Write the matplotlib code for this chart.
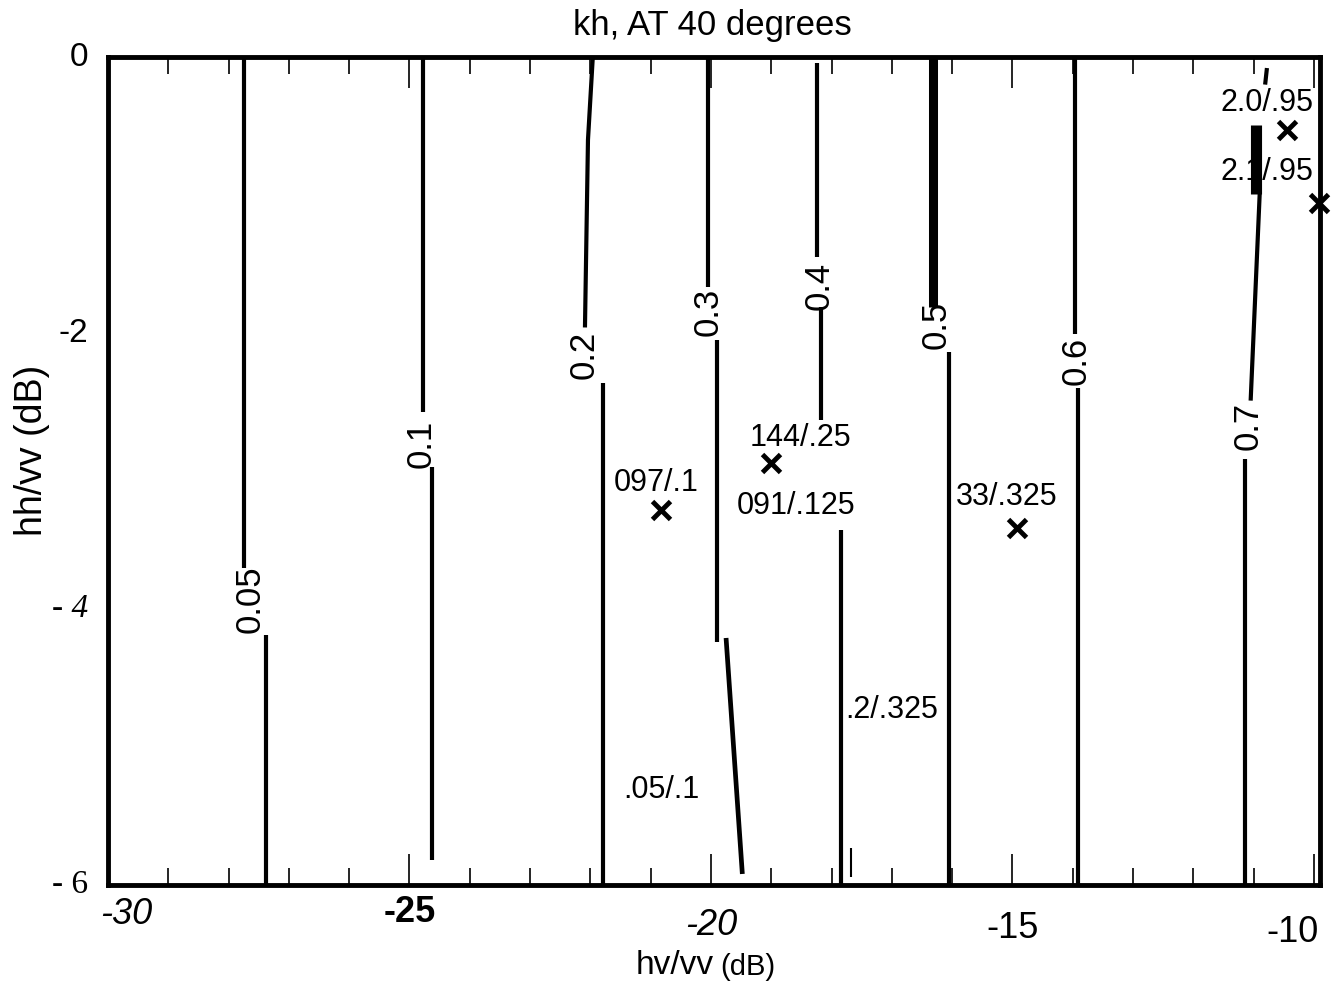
import matplotlib
matplotlib.use("Agg")
import matplotlib.pyplot as plt
from matplotlib.ticker import MultipleLocator

plt.rcParams['font.family'] = ['Liberation Sans', 'DejaVu Sans']

# contour levels of kh and their inline labels
levels = [0.05, 0.1, 0.2, 0.3, 0.4, 0.5, 0.6, 0.7]
level_text = ['0.05', '0.1', '0.2', '0.3', '0.4', '0.5', '0.6', '0.7']

# traced contour pieces: (hv/vv values, hh/vv values) for each piece
c005 = [([-27.74, -27.74], [0.0, -3.70]), ([-27.38, -27.38], [-4.19, -6.0])]
c010 = [([-24.78, -24.78], [0.0, -2.57]), ([-24.62, -24.62], [-2.97, -5.82])]
c020 = [([-21.96, -22.04, -22.09], [0.0, -0.60, -1.96]), ([-21.79, -21.79], [-2.36, -6.0])]
c030 = [([-20.05, -20.05], [0.0, -1.67]), ([-19.90, -19.90], [-2.05, -4.24]),
        ([-19.75, -19.48], [-4.21, -5.92])]
c040 = [([-18.24, -18.24], [-0.04, -1.45]), ([-18.17, -18.17], [-1.81, -2.63]),
        ([-17.84, -17.84], [-3.43, -6.0]), ([-17.67, -17.67], [-5.73, -5.94])]
c050 = [([-16.31, -16.31], [0.0, -1.81]), ([-16.05, -16.05], [-2.14, -6.0])]
c060 = [([-13.97, -13.97], [0.0, -2.01]), ([-13.92, -13.92], [-2.40, -6.0])]
c070 = [([-10.78, -10.81], [-0.08, -0.20]), ([-10.96, -10.96], [-0.49, -0.99]),
        ([-10.90, -11.05], [-0.99, -2.49]), ([-11.15, -11.15], [-2.91, -6.0])]
contours = [c005, c010, c020, c030, c040, c050, c060, c070]

label_hv = [-27.64, -24.80, -22.11, -20.05, -18.21, -16.26, -13.95, -11.10]
label_hh = [-3.93, -2.80, -2.16, -1.85, -1.66, -1.94, -2.20, -2.67]

# measured points
pt_hv = [-10.45, -9.92, -20.83, -19.00, -14.93]
pt_hh = [-0.53, -1.06, -3.28, -2.94, -3.41]

note_text = ['2.0/.95', '2.1/.95', '097/.1', '144/.25', '091/.125',
             '33/.325', '.2/.325', '.05/.1']
note_hv = [-10.78, -10.78, -20.91, -18.51, -18.59, -15.10, -17.01, -20.83]
note_hh = [-0.33, -0.83, -3.09, -2.76, -3.25, -3.19, -4.73, -5.31]

xtick_vals = [-30, -25, -20, -15, -10]
ytick_vals = [0, -2, -4, -6]

fig = plt.figure(figsize=(13.33, 9.9), dpi=100)
ax = fig.add_axes([108 / 1333, 1 - 885 / 990, (1320 - 108) / 1333, (885 - 57) / 990])

# heavier strokes on a couple of pieces
heavy = {(5, 0): 6.5, (7, 1): 8.0, (3, 2): 3.4, (4, 3): 1.5}

for i, segs in enumerate(contours):
    for j, (xs, ys) in enumerate(segs):
        ax.plot(xs, ys, color='k', lw=heavy.get((i, j), 3.0),
                solid_capstyle='butt', zorder=3)
    ax.text(label_hv[i], label_hh[i], level_text[i], rotation=90, fontsize=25,
            ha='center', va='center', zorder=2)

for t, x, y in zip(note_text, note_hv, note_hh):
    ax.text(x, y, t, fontsize=22, ha='center', va='center', zorder=2)

ax.plot(pt_hv, pt_hh, 'x', color='k', ms=13, mew=3.5, clip_on=False, zorder=4)

ax.set_xlim(-30, -9.9)
ax.set_ylim(-6, 0)

for s in ax.spines.values():
    s.set_linewidth(3.5)

ax.xaxis.set_major_locator(MultipleLocator(5))
ax.xaxis.set_minor_locator(MultipleLocator(1))
ax.tick_params(axis='x', which='major', direction='in', length=22, width=1.2,
               top=True, bottom=True, labelbottom=False)
ax.tick_params(axis='x', which='minor', direction='in', length=12, width=1.2,
               top=True, bottom=True)
ax.set_yticks(ytick_vals)
ax.tick_params(axis='y', length=0, labelleft=False)

# tick labels, each set in its own face
xt_style = [dict(style='italic'), dict(weight='bold'), dict(style='italic'), {}, {}]
xt_drop = [0.036, 0.033, 0.049, 0.052, 0.057]
xt_shift = [0.3, 0.0, 0.0, 0.0, -0.35]
for v, st, d, dx in zip(xtick_vals, xt_style, xt_drop, xt_shift):
    ax.text(v + dx, -d, str(v), transform=ax.get_xaxis_transform(),
            fontsize=26, ha='center', va='center', **st)

yt_text = ['0', '-2', '- 4', '- 6']
yt_style = [dict(), dict(), dict(family='Liberation Serif', style='italic'),
            dict(family='Liberation Serif')]
for v, t, st in zip(ytick_vals, yt_text, yt_style):
    ax.text(-0.016, v, t, transform=ax.get_yaxis_transform(), fontsize=24,
            ha='right', va='center', **st)

fig.text(712 / 1333, 1 - 25 / 990, 'kh, AT 40 degrees', fontsize=25,
         ha='center', va='center')
fig.text(675 / 1333, 1 - 965 / 990, 'hv/vv', fontsize=24, ha='center', va='center')
fig.text(748 / 1333, 1 - 967 / 990, '(dB)', fontsize=21, ha='center', va='center')
fig.text(32 / 1333, 1 - 450 / 990, 'hh/vv (dB)', fontsize=27, rotation=90,
         ha='center', va='center')

fig.savefig('out.png', dpi=100)
